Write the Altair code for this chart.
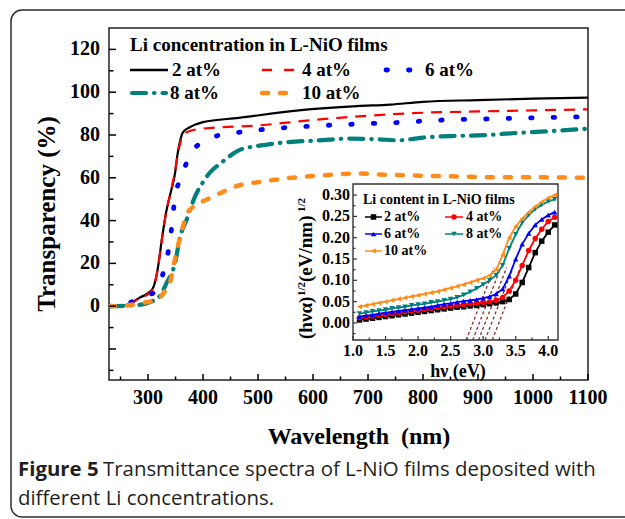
import altair as alt
import pandas as pd

SERIF = "Liberation Serif"
SANS = "Open Sans"

# ---------------- data: main transmittance spectra ----------------
labels = ["2 at%", "4 at%", "6 at%", "8 at%", "10 at%"]
colors = ["#000000", "#ff0000", "#0000ff", "#00807b", "#ff8c1a"]

wl_2 = [229, 250, 265, 285, 302, 310, 318, 325, 333, 342, 349, 353, 358, 364, 375, 400, 465, 574, 680, 740, 800, 900, 1000, 1100]
tr_2 = [0, 0, 1, 4, 6.5, 9, 18, 31, 44, 54, 62, 70, 77, 81.5, 83.5, 86, 88, 91.5, 93.5, 94.2, 95.5, 96.3, 97, 97.5]

wl_4 = [229, 250, 265, 285, 302, 310, 318, 325, 333, 342, 349, 355, 362, 372, 400, 502, 600, 700, 800, 900, 1000, 1100]
tr_4 = [0, 0, 1, 3.8, 6, 9, 18, 31, 44, 54, 63, 72, 79, 81.5, 83, 84.5, 87, 89, 90.4, 91, 91.5, 92]

wl_6 = [229, 255, 270, 285, 300, 315, 330, 339, 344, 349, 362, 376, 395, 418, 458, 502, 585, 669, 751, 835, 918, 1002, 1100]
tr_6 = [0, 0.3, 2, 3.5, 5, 7.5, 18, 29, 39, 51, 61, 71, 76, 79, 81, 82.4, 84, 85, 85.8, 87, 87.5, 88, 88.6]

wl_8 = [229, 280, 305, 322, 334, 349, 358, 371, 385, 400, 411, 433, 465, 502, 553, 611, 662, 718, 755, 800, 850, 900, 973, 1045, 1100]
tr_8 = [0, 0.5, 2, 5, 11, 20, 32, 41, 51, 58, 62, 67, 72.8, 75, 76.6, 77.5, 78.3, 78, 77.5, 78.8, 79.5, 79.8, 81, 82, 83]

wl_10 = [229, 260, 285, 316, 332, 340, 349, 360, 371, 385, 408, 433, 465, 502, 553, 611, 684, 718, 792, 864, 936, 1009, 1100]
tr_10 = [0, 0.3, 1.4, 3, 7.5, 11, 22, 34, 43, 47, 50, 53, 56.4, 58, 59.8, 61, 62, 61.6, 61, 60.6, 60.2, 60.2, 60]

main_wl = [wl_2, wl_4, wl_6, wl_8, wl_10]
main_tr = [tr_2, tr_4, tr_6, tr_8, tr_10]

x_ticks_major = list(range(300, 1101, 100))
x_tick_text = [str(v) for v in x_ticks_major]
x_ticks_minor = list(range(250, 1051, 100))
y_ticks_major = list(range(-20, 121, 20))
y_ticks_minor = list(range(-30, 111, 20))
y_tick_labels = list(range(0, 121, 20))
y_tick_text = [str(v) for v in y_tick_labels]

# ---------------- data: inset Tauc plot ----------------
ev = [1.1, 1.2, 1.3, 1.4, 1.5, 1.6, 1.7, 1.8, 1.9, 2.0, 2.1, 2.2, 2.3, 2.4, 2.5, 2.6,
      2.7, 2.8, 2.9, 3.0, 3.1, 3.2, 3.3, 3.4, 3.5, 3.6, 3.7, 3.8, 3.9, 4.0, 4.1]
a_2 = [0.007, 0.009, 0.011, 0.013, 0.015, 0.017, 0.019, 0.021, 0.023, 0.025, 0.027, 0.029, 0.031, 0.033, 0.035, 0.037,
       0.038, 0.040, 0.041, 0.043, 0.045, 0.047, 0.050, 0.055, 0.068, 0.095, 0.130, 0.165, 0.192, 0.213, 0.230]
a_4 = [0.012, 0.014, 0.016, 0.018, 0.020, 0.022, 0.024, 0.026, 0.028, 0.030, 0.032, 0.034, 0.036, 0.038, 0.040, 0.042,
       0.043, 0.045, 0.046, 0.048, 0.050, 0.053, 0.060, 0.075, 0.100, 0.135, 0.170, 0.198, 0.220, 0.238, 0.248]
a_6 = [0.015, 0.017, 0.019, 0.022, 0.024, 0.026, 0.028, 0.030, 0.032, 0.034, 0.036, 0.038, 0.041, 0.044, 0.046, 0.049,
       0.051, 0.053, 0.055, 0.058, 0.062, 0.068, 0.080, 0.110, 0.150, 0.185, 0.210, 0.230, 0.243, 0.253, 0.260]
a_8 = [0.022, 0.024, 0.027, 0.029, 0.031, 0.034, 0.036, 0.038, 0.041, 0.043, 0.045, 0.048, 0.050, 0.053, 0.056, 0.060,
       0.066, 0.073, 0.081, 0.090, 0.100, 0.112, 0.135, 0.175, 0.208, 0.235, 0.253, 0.267, 0.277, 0.285, 0.290]
a_10 = [0.038, 0.041, 0.044, 0.047, 0.050, 0.053, 0.056, 0.059, 0.062, 0.065, 0.068, 0.071, 0.074, 0.078, 0.082, 0.086,
        0.090, 0.095, 0.100, 0.105, 0.112, 0.125, 0.160, 0.200, 0.226, 0.245, 0.260, 0.273, 0.284, 0.293, 0.300]
inset_a = [a_2, a_4, a_6, a_8, a_10]
inset_shapes = ["square", "circle", "triangle-up", "triangle-down", "triangle-left"]

# extrapolated tangent lines (bottom point, upper point) for 10, 8, 6, 4, 2 at%
tan_ev0 = [2.74, 2.84, 2.93, 3.03, 3.14]
tan_ev1 = [3.17, 3.27, 3.36, 3.46, 3.57]
tan_a0 = -0.04
tan_a1 = 0.13

inset_x_labels = [1.0, 1.5, 2.0, 2.5, 3.0, 3.5, 4.0]
inset_x_text = ["1.0", "1.5", "2.0", "2.5", "3.0", "3.5", "4.0"]
inset_x_minor = [1.25, 1.75, 2.25, 2.75, 3.25, 3.75]
inset_y_labels = [0.0, 0.05, 0.10, 0.15, 0.20, 0.25, 0.30]
inset_y_text = ["0.00", "0.05", "0.10", "0.15", "0.20", "0.25", "0.30"]
inset_y_minor = [-0.025, 0.025, 0.075, 0.125, 0.175, 0.225, 0.275]

# ---------------- geometry ----------------
W, H = 479, 352
PAD = {"left": 109, "top": 28, "right": 37, "bottom": 139}

x_main = alt.Scale(domain=[229, 1100], nice=False, zero=False)
y_main = alt.Scale(domain=[-34.5, 130], nice=False, zero=False)

IX0, IX1, IY0, IY1 = 244, 449, 156, 312  # inset frame in plot coords
x_in = alt.Scale(domain=[1.0, 4.15], range=[IX0, IX1], nice=False, zero=False)
y_in = alt.Scale(domain=[-0.04, 0.326], range=[IY1, IY0], nice=False, zero=False)

one = pd.DataFrame({"k": [0]})


def txt(s, x, y, size, weight="bold", font=SERIF, align="left", baseline="middle", angle=0, color="black"):
    kw = dict(text=s, font=font, fontSize=size, fontWeight=weight, align=align, baseline=baseline, color=color)
    if angle:
        kw["angle"] = angle
    return alt.Chart(one).mark_text(**kw).encode(x=alt.value(x), y=alt.value(y))


def seg(x1, x2, y, color, **kw):
    return alt.Chart(one).mark_rule(color=color, **kw).encode(x=alt.value(x1), x2=alt.value(x2), y=alt.value(y))


styles = [
    dict(strokeWidth=2.2, strokeCap="butt"),
    dict(strokeWidth=2.2, strokeDash=[11, 8], strokeCap="butt"),
    dict(strokeWidth=4.8, strokeDash=[1.5, 21], strokeCap="round"),
    dict(strokeWidth=4.2, strokeDash=[14, 8, 0.5, 8], strokeCap="round"),
    dict(strokeWidth=4.5, strokeDash=[6, 12], strokeCap="round"),
]

main_layers = []
for i in range(5):
    df = pd.DataFrame({"wl": main_wl[i], "t": main_tr[i]})
    main_layers.append(
        alt.Chart(df).mark_line(color=colors[i], interpolate="monotone", clip=True, **styles[i]).encode(
            x=alt.X("wl:Q", scale=x_main, axis=None),
            y=alt.Y("t:Q", scale=y_main, axis=None),
        )
    )

# inward ticks of main axes
for vals, ln in [(x_ticks_major, 6), (x_ticks_minor, 3.5)]:
    main_layers.append(
        alt.Chart(pd.DataFrame({"wl": vals})).mark_rule(color="black", strokeWidth=1.5).encode(
            x=alt.X("wl:Q", scale=x_main, axis=None), y=alt.value(H), y2=alt.value(H - ln)))
for vals, ln in [(y_ticks_major, 7), (y_ticks_minor, 4.5)]:
    main_layers.append(
        alt.Chart(pd.DataFrame({"t": vals})).mark_rule(color="black", strokeWidth=1.5).encode(
            y=alt.Y("t:Q", scale=y_main, axis=None), x=alt.value(0), x2=alt.value(ln)))

# tick labels of main axes
main_layers.append(
    alt.Chart(pd.DataFrame({"wl": x_ticks_major, "lab": x_tick_text})).mark_text(
        font=SERIF, fontSize=20, fontWeight="bold", color="black", baseline="middle", align="center").encode(
        x=alt.X("wl:Q", scale=x_main, axis=None), y=alt.value(H + 18), text="lab:N"))
main_layers.append(
    alt.Chart(pd.DataFrame({"t": y_tick_labels, "lab": y_tick_text})).mark_text(
        font=SERIF, fontSize=20, fontWeight="bold", color="black", baseline="middle", align="right").encode(
        y=alt.Y("t:Q", scale=y_main, axis=None), x=alt.value(-9), text="lab:N"))

main_group = alt.layer(*main_layers)

# ---------------- inset ----------------
inset_layers = []
inset_layers.append(
    alt.Chart(one).mark_rect(fill="white", stroke="#333333", strokeWidth=1.4).encode(
        x=alt.value(IX0), x2=alt.value(IX1), y=alt.value(IY0), y2=alt.value(IY1)))

tan_rows = []
for j in range(5):
    tan_rows.append({"ev": tan_ev0[j], "a": tan_a0, "g": j})
    tan_rows.append({"ev": tan_ev1[j], "a": tan_a1, "g": j})
inset_layers.append(
    alt.Chart(pd.DataFrame(tan_rows)).mark_line(color="#8b2b2b", strokeDash=[3, 2.5], strokeWidth=1.3).encode(
        x=alt.X("ev:Q", scale=x_in, axis=None),
        y=alt.Y("a:Q", scale=y_in, axis=None),
        detail="g:N"))

for i in range(5):
    df = pd.DataFrame({"ev": ev, "a": inset_a[i]})
    base = alt.Chart(df).encode(x=alt.X("ev:Q", scale=x_in, axis=None), y=alt.Y("a:Q", scale=y_in, axis=None))
    inset_layers.append(base.mark_line(color=colors[i], strokeWidth=1.8))
    inset_layers.append(base.mark_point(shape=inset_shapes[i], filled=True, size=30, opacity=1, color=colors[i]))

for vals, ln in [(inset_x_labels, 4), (inset_x_minor, 2.5)]:
    inset_layers.append(
        alt.Chart(pd.DataFrame({"ev": vals})).mark_rule(color="#333333", strokeWidth=1.2).encode(
            x=alt.X("ev:Q", scale=x_in, axis=None), y=alt.value(IY1), y2=alt.value(IY1 - ln)))
for vals, ln in [(inset_y_labels, 4), (inset_y_minor, 2.5)]:
    inset_layers.append(
        alt.Chart(pd.DataFrame({"a": vals})).mark_rule(color="#333333", strokeWidth=1.2).encode(
            y=alt.Y("a:Q", scale=y_in, axis=None), x=alt.value(IX0), x2=alt.value(IX0 + ln)))

inset_layers.append(
    alt.Chart(pd.DataFrame({"ev": inset_x_labels, "lab": inset_x_text})).mark_text(
        font=SERIF, fontSize=16, fontWeight="bold", color="black", baseline="middle", align="center").encode(
        x=alt.X("ev:Q", scale=x_in, axis=None), y=alt.value(IY1 + 11), text="lab:N"))
inset_layers.append(
    alt.Chart(pd.DataFrame({"a": inset_y_labels, "lab": inset_y_text})).mark_text(
        font=SERIF, fontSize=16, fontWeight="bold", color="black", baseline="middle", align="right").encode(
        y=alt.Y("a:Q", scale=y_in, axis=None), x=alt.value(IX0 - 3), text="lab:N"))

inset_group = alt.layer(*inset_layers)

# ---------------- decorations: legends, titles, caption, frame ----------------
deco = []

# outer rounded frame
deco.append(alt.Chart(one).mark_rect(fill="white", fillOpacity=0, stroke="#2b2b2b", strokeWidth=1.5,
                                     cornerRadius=11).encode(
    x=alt.value(-98), x2=alt.value(540), y=alt.value(-18), y2=alt.value(489)))

# axis titles
deco.append(txt("Wavelength \u00a0(nm)", 250, 409, 24, align="center"))
deco.append(txt("Transparency (%)", -62, 186, 25, align="center", angle=270))
deco.append(txt("h\u03bd (eV)", 349, 344, 18, align="center"))

# main legend
deco.append(txt("Li concentration in L-NiO films", 21, 17, 19))
leg_main = [
    (21, 59, 42, 63, dict(strokeWidth=2.5)),
    (153, 185, 42, 193, dict(strokeWidth=2.5, strokeDash=[10, 12])),
    (277, 302, 42, 316, dict(strokeWidth=4.8, strokeDash=[1.5, 21], strokeCap="round")),
    (23, 57, 65, 61, dict(strokeWidth=4.2, strokeDash=[14, 8, 0.5, 8], strokeCap="round")),
    (153, 178, 65, 193, dict(strokeWidth=4.5, strokeDash=[6, 12], strokeCap="round")),
]
for i, (a, b, y, tx, kw) in enumerate(leg_main):
    deco.append(seg(a, b, y, colors[i], **kw))
    deco.append(txt(labels[i], tx, y, 19))

# inset legend
deco.append(txt("Li content in L-NiO films", 254, 172, 14))
leg_in = [(256, 273, 189, 275), (336, 354, 189, 357), (256, 273, 206, 275), (336, 354, 206, 357), (256, 273, 223, 275)]
for i, (a, b, y, tx) in enumerate(leg_in):
    deco.append(seg(a, b, y, colors[i], strokeWidth=1.5))
    deco.append(alt.Chart(one).mark_point(shape=inset_shapes[i], filled=True, size=30, opacity=1,
                                          color=colors[i]).encode(x=alt.value((a + b) / 2), y=alt.value(y)))
    deco.append(txt(labels[i], tx, y, 14))

# inset y title (rotated, with superscripts)
deco.append(txt("(h\u03bd\u03b1)", 203, 311, 19, baseline="alphabetic", angle=270))
deco.append(txt("1/2", 196, 268, 11, baseline="alphabetic", angle=270))
deco.append(txt(" (eV/nm)", 203, 254, 19, baseline="alphabetic", angle=270))
deco.append(txt("1/2", 196, 184, 11, baseline="alphabetic", angle=270))

# caption
deco.append(txt("Figure 5", -91, 448, 20.4, weight="bold", font=SANS, baseline="alphabetic", color="#231f20"))
deco.append(txt("Transmittance spectra of L-NiO films deposited with", -6, 448, 20.4, weight="normal",
                font=SANS, baseline="alphabetic", color="#231f20"))
deco.append(txt("different Li concentrations.", -91, 477, 20.4, weight="normal", font=SANS,
                baseline="alphabetic", color="#231f20"))

chart = alt.layer(main_group, inset_group, *deco).resolve_scale(
    x="independent", y="independent"
).properties(
    width=W, height=H, padding=PAD, autosize="none", background="white"
).configure_view(stroke="#222222", strokeWidth=1.5)

chart.save("out.html", embed_options={"renderer": "svg", "actions": False})
